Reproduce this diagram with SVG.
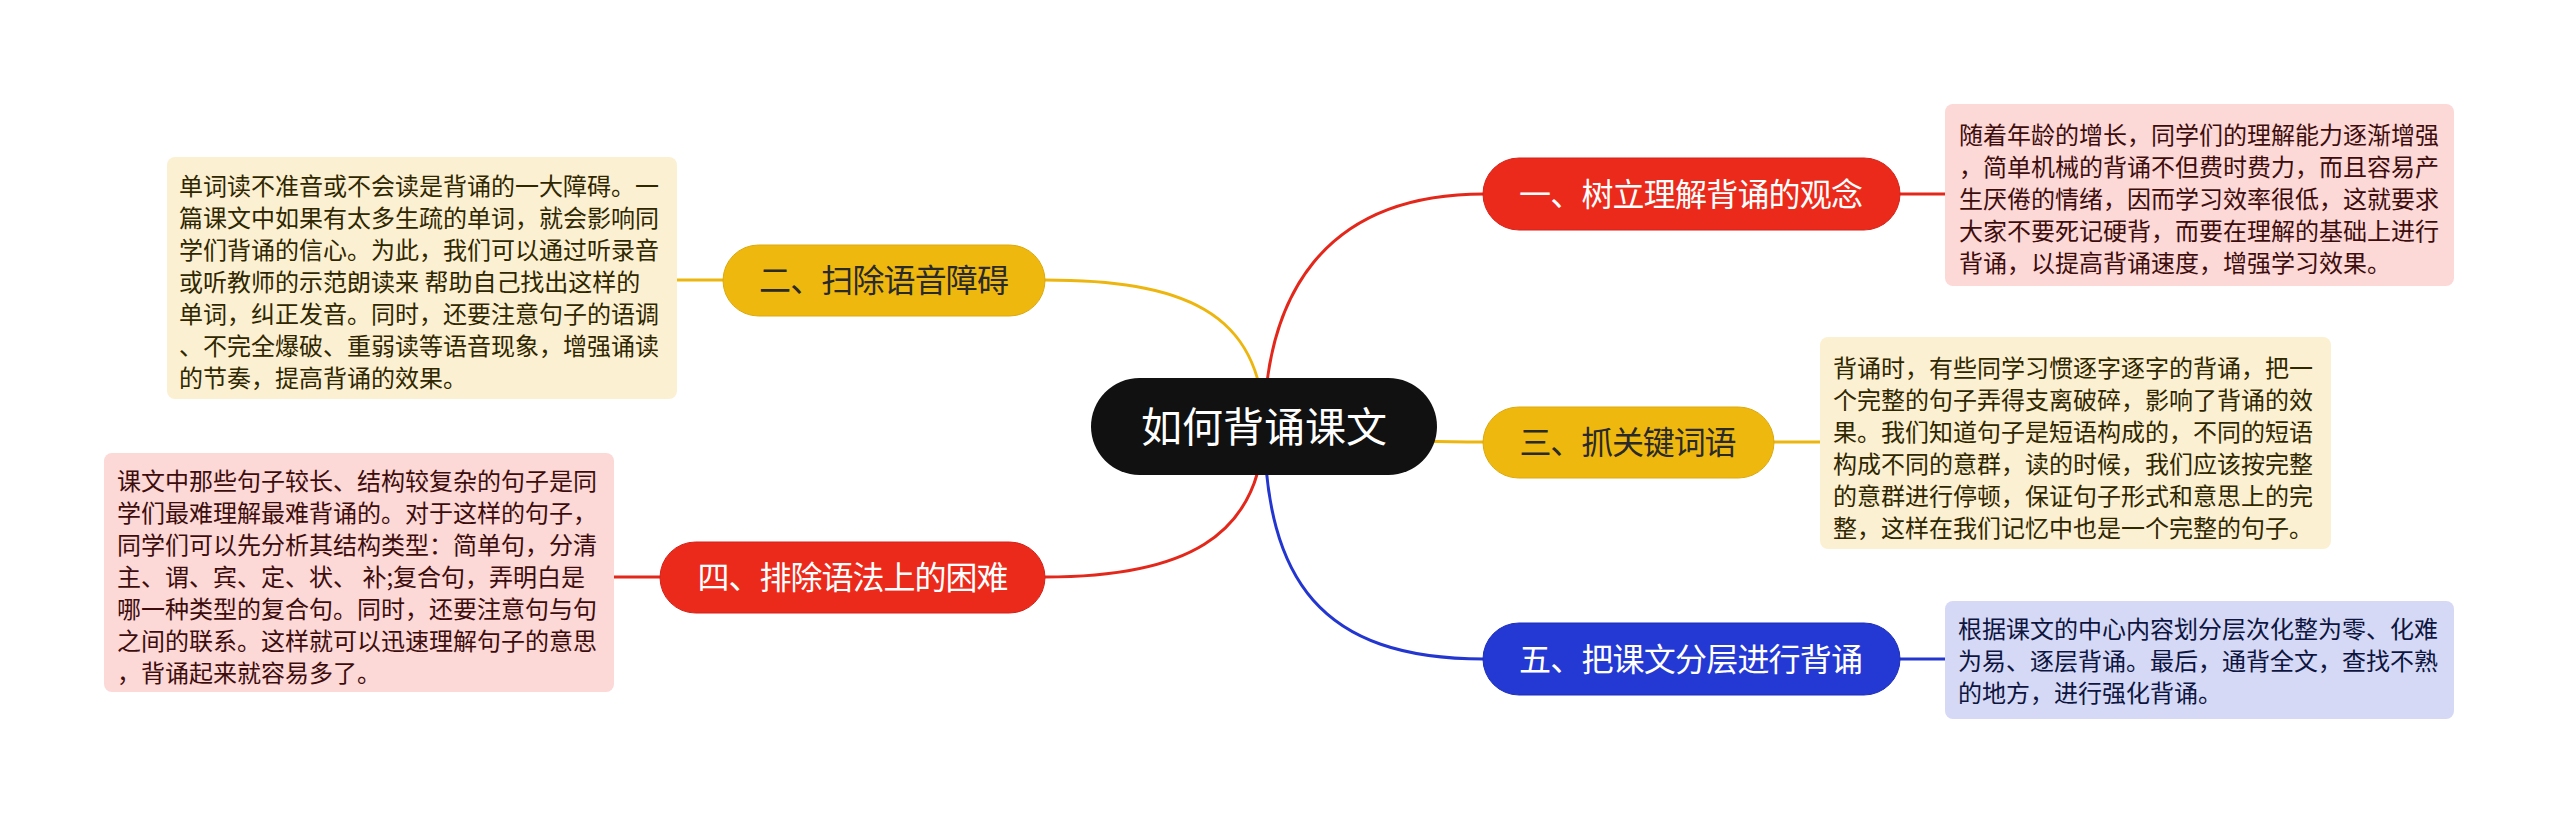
<svg xmlns="http://www.w3.org/2000/svg" width="2560" height="823" viewBox="0 0 2560 823">
<style>
.t{font-family:"Noto Sans CJK SC","Noto Sans",sans-serif;}
.n{font-size:32px;text-anchor:middle;}
.b{font-size:24px;}
.w{fill:#ffffff;}
.d{fill:#2a2a2a;}
.c{fill:none;stroke-width:3;stroke-linecap:round;}
.red{stroke:#E3281B;}
.yel{stroke:#EDB60F;}
.blu{stroke:#2336CF;}
</style>
<rect width="2560" height="823" fill="#ffffff"/>
<g id="connectors">
<path class="c red" d="M1264,426 C1266,300 1320,194 1484,194"/>
<path class="c yel" d="M1264,426 C1262,310 1180,280 1045,280"/>
<path class="c yel" d="M1264,426 C1350,440 1400,442 1484,442"/>
<path class="c red" d="M1264,426 C1262,540 1180,577 1045,577"/>
<path class="c blu" d="M1264,426 C1266,580 1320,659 1484,659"/>
<path class="c red" d="M1900,194 L1945,194"/>
<path class="c yel" d="M1773,442 L1820,442"/>
<path class="c blu" d="M1900,659 L1945,659"/>
<path class="c yel" d="M723,280 L677,280"/>
<path class="c red" d="M660,577 L614,577"/>
</g>
<g id="center">
<rect x="1091" y="378" width="346" height="97" rx="48.5" fill="#111111"/>
<text class="t w" x="1264" y="442" font-size="41" text-anchor="middle">如何背诵课文</text>
</g>
<g id="node1">
<rect x="1483" y="158" width="417" height="72" rx="36" fill="#EC2A1B" stroke="#D4231A" stroke-width="1"/>
<text class="t n w" x="1691" y="206" textLength="344">一、树立理解背诵的观念</text>
</g>
<g id="node2">
<rect x="723" y="245" width="322" height="71" rx="35.5" fill="#EFB80E" stroke="#DDA90C" stroke-width="1"/>
<text class="t n d" x="884" y="292" textLength="250">二、扫除语音障碍</text>
</g>
<g id="node3">
<rect x="1483" y="407" width="291" height="71" rx="35.5" fill="#EFB80E" stroke="#DDA90C" stroke-width="1"/>
<text class="t n d" x="1628" y="454" textLength="217">三、抓关键词语</text>
</g>
<g id="node4">
<rect x="660" y="542" width="385" height="71" rx="35.5" fill="#EC2A1B" stroke="#D4231A" stroke-width="1"/>
<text class="t n w" x="853" y="589" textLength="311">四、排除语法上的困难</text>
</g>
<g id="node5">
<rect x="1483" y="623" width="417" height="72" rx="36" fill="#2439D4" stroke="#1D2FB8" stroke-width="1"/>
<text class="t n w" x="1691" y="671" textLength="344">五、把课文分层进行背诵</text>
</g>
<g id="box1">
<rect x="1945" y="104" width="509" height="182" rx="8" fill="#FCD8D7"/>
<text class="t b" fill="#3d0d0d">
<tspan x="1959" y="144">随着年龄的增长，同学们的理解能力逐渐增强</tspan>
<tspan x="1959" y="176">，简单机械的背诵不但费时费力，而且容易产</tspan>
<tspan x="1959" y="208">生厌倦的情绪，因而学习效率很低，这就要求</tspan>
<tspan x="1959" y="240">大家不要死记硬背，而要在理解的基础上进行</tspan>
<tspan x="1959" y="272">背诵，以提高背诵速度，增强学习效果。</tspan>
</text>
</g>
<g id="box3">
<rect x="1820" y="337" width="511" height="212" rx="8" fill="#FCF0D2"/>
<text class="t b" fill="#2f2700">
<tspan x="1833" y="377">背诵时，有些同学习惯逐字逐字的背诵，把一</tspan>
<tspan x="1833" y="409">个完整的句子弄得支离破碎，影响了背诵的效</tspan>
<tspan x="1833" y="441">果。我们知道句子是短语构成的，不同的短语</tspan>
<tspan x="1833" y="473">构成不同的意群，读的时候，我们应该按完整</tspan>
<tspan x="1833" y="505">的意群进行停顿，保证句子形式和意思上的完</tspan>
<tspan x="1833" y="537">整，这样在我们记忆中也是一个完整的句子。</tspan>
</text>
</g>
<g id="box5">
<rect x="1945" y="601" width="509" height="118" rx="8" fill="#D5D9F5"/>
<text class="t b" fill="#0d1540">
<tspan x="1958" y="638">根据课文的中心内容划分层次化整为零、化难</tspan>
<tspan x="1958" y="670">为易、逐层背诵。最后，通背全文，查找不熟</tspan>
<tspan x="1958" y="702">的地方，进行强化背诵。</tspan>
</text>
</g>
<g id="box2">
<rect x="167" y="157" width="510" height="242" rx="8" fill="#FCF0D2"/>
<text class="t b" fill="#2f2700">
<tspan x="179" y="195">单词读不准音或不会读是背诵的一大障碍。一</tspan>
<tspan x="179" y="227">篇课文中如果有太多生疏的单词，就会影响同</tspan>
<tspan x="179" y="259">学们背诵的信心。为此，我们可以通过听录音</tspan>
<tspan x="179" y="291">或听教师的示范朗读来 帮助自己找出这样的</tspan>
<tspan x="179" y="323">单词，纠正发音。同时，还要注意句子的语调</tspan>
<tspan x="179" y="355">、不完全爆破、重弱读等语音现象，增强诵读</tspan>
<tspan x="179" y="387">的节奏，提高背诵的效果。</tspan>
</text>
</g>
<g id="box4">
<rect x="104" y="453" width="510" height="239" rx="8" fill="#FCD8D7"/>
<text class="t b" fill="#3d0d0d">
<tspan x="117" y="490">课文中那些句子较长、结构较复杂的句子是同</tspan>
<tspan x="117" y="522">学们最难理解最难背诵的。对于这样的句子，</tspan>
<tspan x="117" y="554">同学们可以先分析其结构类型：简单句，分清</tspan>
<tspan x="117" y="586">主、谓、宾、定、状、 补;复合句，弄明白是</tspan>
<tspan x="117" y="618">哪一种类型的复合句。同时，还要注意句与句</tspan>
<tspan x="117" y="650">之间的联系。这样就可以迅速理解句子的意思</tspan>
<tspan x="117" y="682">，背诵起来就容易多了。</tspan>
</text>
</g>
</svg>
